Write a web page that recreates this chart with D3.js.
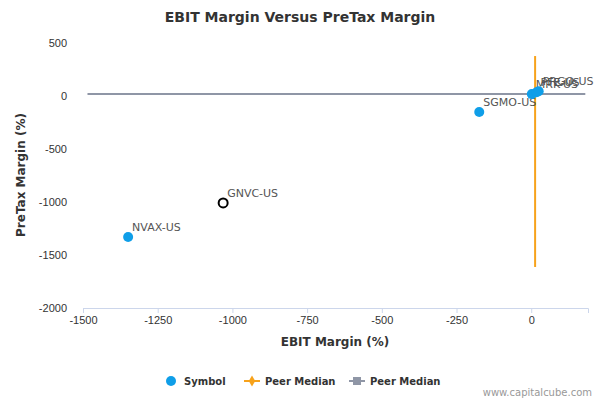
<!DOCTYPE html>
<html><head><meta charset="utf-8">
<script src="https://cdn.jsdelivr.net/npm/d3@7"></script>
<style>body{margin:0;font-family:"Lucida Grande","DejaVu Sans",Arial,sans-serif}</style>
</head><body><div id="chart"></div>
<script>
var symbols  = ['NVAX-US', 'GNVC-US', 'SGMO-US', 'MRK-US', 'PFE-US', 'PRGO-US'];
var ebit     = [-1349, -1031, -174, 2, 18, 25];
var pretax   = [-1330, -1009, -151, 18, 35, 45];
var hollow   = [false, true, false, false, false, false];
var xTicks   = [-1500, -1250, -1000, -750, -500, -250, 0];
var yTicks   = [500, 0, -500, -1000, -1500, -2000];
var peerX    = 13;   // median EBIT margin
var peerY    = 19;   // median pretax margin
var peerXExt = [-1613, 377];
var peerYExt = [-1485, 181];

var svg = d3.select('#chart').append('svg').attr('width', 600).attr('height', 400);
var x = d3.scaleLinear().domain([-1500, 190]).range([83, 588]);
var y = d3.scaleLinear().domain([-2000, 500]).range([308, 43]);
var fmt = function (d) { return String(d); };

svg.append('text').attr('x', 300).attr('y', 22).attr('text-anchor', 'middle')
    .style('font-size', '14px').style('font-weight', 'bold').attr('fill', '#333')
    .text('EBIT Margin Versus PreTax Margin');

var xAxis = svg.append('g').attr('transform', 'translate(0,308)')
    .call(d3.axisBottom(x).tickValues(xTicks).tickSize(5).tickFormat(fmt));
xAxis.select('.domain').attr('stroke', '#ccd6eb');
xAxis.selectAll('line').attr('stroke', '#ccd6eb');
xAxis.selectAll('text').attr('fill', '#333').style('font-size', '11px');

var yAxis = svg.append('g').attr('transform', 'translate(83,0)')
    .call(d3.axisLeft(y).tickValues(yTicks).tickSize(0).tickPadding(16).tickFormat(fmt));
yAxis.select('.domain').remove();
yAxis.selectAll('text').attr('fill', '#333').style('font-size', '11px');

svg.append('text').attr('x', 335).attr('y', 346).attr('text-anchor', 'middle')
    .style('font-size', '12px').style('font-weight', 'bold').attr('fill', '#333').text('EBIT Margin (%)');
svg.append('text').attr('transform', 'translate(25,175) rotate(-90)').attr('text-anchor', 'middle')
    .style('font-size', '12px').style('font-weight', 'bold').attr('fill', '#333').text('PreTax Margin (%)');

// peer median lines
svg.append('line').attr('x1', x(peerYExt[0])).attr('x2', x(peerYExt[1])).attr('y1', y(peerY)).attr('y2', y(peerY))
    .attr('stroke', '#8f96a6').attr('stroke-width', 2);
svg.append('line').attr('x1', x(peerX)).attr('x2', x(peerX)).attr('y1', y(peerXExt[0])).attr('y2', y(peerXExt[1]))
    .attr('stroke', '#f7a21b').attr('stroke-width', 2);

symbols.forEach(function (s, i) {
    svg.append('circle').attr('cx', x(ebit[i])).attr('cy', y(pretax[i])).attr('r', hollow[i] ? 4.5 : 5)
        .attr('fill', hollow[i] ? '#fff' : '#0f9ee8')
        .attr('stroke', hollow[i] ? '#000' : 'none').attr('stroke-width', 2);
    svg.append('text').attr('x', x(ebit[i]) + 4).attr('y', y(pretax[i]) - 6)
        .style('font-size', '11px').attr('fill', '#555').text(s);
});

// legend
var lg = svg.append('g').attr('transform', 'translate(0,381)');
lg.append('circle').attr('cx', 171).attr('cy', 0).attr('r', 5).attr('fill', '#0f9ee8');
lg.append('text').attr('x', 184).attr('y', 4).text('Symbol');
lg.append('line').attr('x1', 244).attr('x2', 260).attr('y1', 0).attr('y2', 0).attr('stroke', '#f7a21b').attr('stroke-width', 2);
lg.append('path').attr('d', d3.symbol(d3.symbolDiamond, 36)()).attr('transform', 'translate(252,0)').attr('fill', '#f7a21b');
lg.append('text').attr('x', 265).attr('y', 4).text('Peer Median');
lg.append('line').attr('x1', 349).attr('x2', 365).attr('y1', 0).attr('y2', 0).attr('stroke', '#8f96a6').attr('stroke-width', 2);
lg.append('rect').attr('x', 353).attr('y', -4).attr('width', 8).attr('height', 8).attr('fill', '#8f96a6');
lg.append('text').attr('x', 370).attr('y', 4).text('Peer Median');
lg.selectAll('text').style('font-size', '10px').style('font-weight', 'bold').attr('fill', '#333');

svg.append('text').attr('x', 592).attr('y', 396).attr('text-anchor', 'end')
    .style('font-size', '10px').attr('fill', '#999').text('www.capitalcube.com');
</script></body></html>
